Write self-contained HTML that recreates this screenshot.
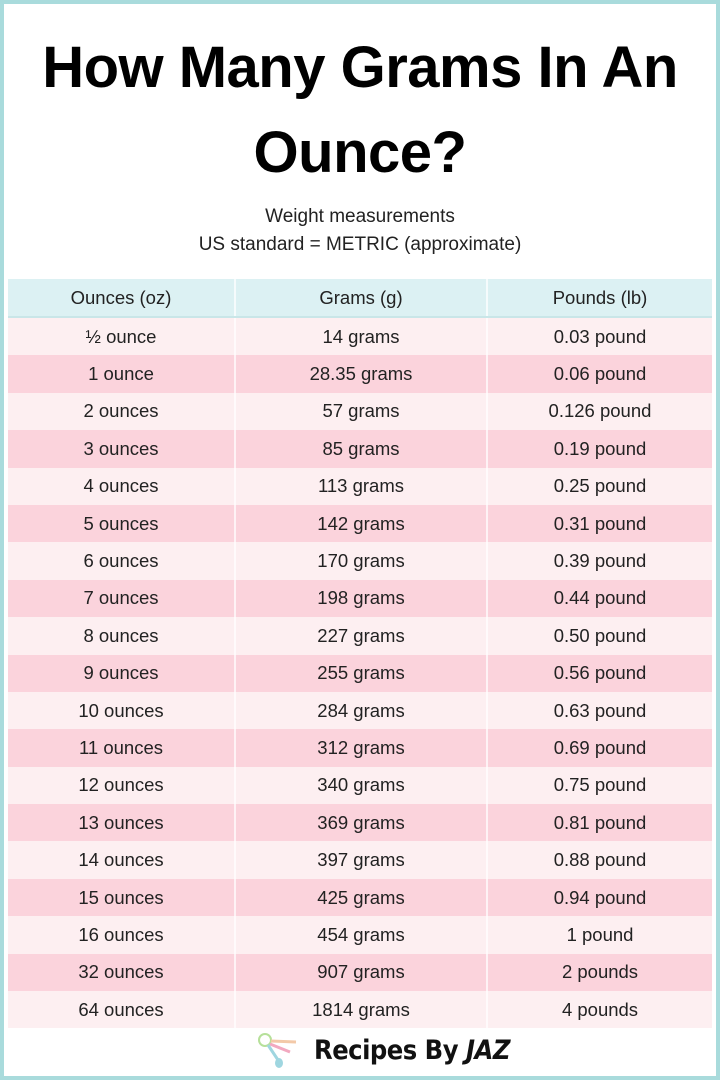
<!DOCTYPE html>
<html><head><meta charset="utf-8"><style>
html,body{margin:0;padding:0}
body{width:720px;height:1080px;position:relative;background:#fff;font-family:"Liberation Sans",sans-serif;overflow:hidden}
.frame{position:absolute;left:0;top:0;width:712px;height:1072px;border:4px solid #a9dbdc;}
h1{position:absolute;left:0;width:720px;top:25px;margin:0;text-align:center;font-size:58px;line-height:85px;font-weight:bold;color:#000;letter-spacing:-0.5px}
.sub{position:absolute;left:0;width:720px;top:203px;text-align:center;font-size:19px;line-height:28px;color:#222}
table{position:absolute;left:8px;top:279px;width:704px;border-collapse:collapse;table-layout:fixed}
td{height:37.4px;padding:0;text-align:center;font-size:18.5px;color:#222;border-right:2px solid rgba(255,255,255,0.7)}
td:last-child{border-right:none}
tr.h td{background:#dcf1f3;height:37px;border-bottom:2px solid #c9e6e8}
tr:nth-child(even) td{background:#fdeff1}
tr:nth-child(odd):not(.h) td{background:#fbd3dc}
.logo{position:absolute;top:1030px;left:256px;height:40px;display:flex;align-items:center}
.logo span{font-family:"DejaVu Sans Condensed","Liberation Sans Narrow",sans-serif;font-weight:bold;font-size:27px;color:#111;margin-left:10px;letter-spacing:-0.5px}
</style></head><body>
<div class="frame"></div>
<h1>How Many Grams In An<br>Ounce?</h1>
<div class="sub">Weight measurements<br>US standard = METRIC (approximate)</div>
<table>
<colgroup><col style="width:227px"><col style="width:252px"><col style="width:225px"></colgroup>
<tr class="h"><td>Ounces (oz)</td><td>Grams (g)</td><td>Pounds (lb)</td></tr>
<tr><td>½ ounce</td><td>14 grams</td><td>0.03 pound</td></tr>
<tr><td>1 ounce</td><td>28.35 grams</td><td>0.06 pound</td></tr>
<tr><td>2 ounces</td><td>57 grams</td><td>0.126 pound</td></tr>
<tr><td>3 ounces</td><td>85 grams</td><td>0.19 pound</td></tr>
<tr><td>4 ounces</td><td>113 grams</td><td>0.25 pound</td></tr>
<tr><td>5 ounces</td><td>142 grams</td><td>0.31 pound</td></tr>
<tr><td>6 ounces</td><td>170 grams</td><td>0.39 pound</td></tr>
<tr><td>7 ounces</td><td>198 grams</td><td>0.44 pound</td></tr>
<tr><td>8 ounces</td><td>227 grams</td><td>0.50 pound</td></tr>
<tr><td>9 ounces</td><td>255 grams</td><td>0.56 pound</td></tr>
<tr><td>10 ounces</td><td>284 grams</td><td>0.63 pound</td></tr>
<tr><td>11 ounces</td><td>312 grams</td><td>0.69 pound</td></tr>
<tr><td>12 ounces</td><td>340 grams</td><td>0.75 pound</td></tr>
<tr><td>13 ounces</td><td>369 grams</td><td>0.81 pound</td></tr>
<tr><td>14 ounces</td><td>397 grams</td><td>0.88 pound</td></tr>
<tr><td>15 ounces</td><td>425 grams</td><td>0.94 pound</td></tr>
<tr><td>16 ounces</td><td>454 grams</td><td>1 pound</td></tr>
<tr><td>32 ounces</td><td>907 grams</td><td>2 pounds</td></tr>
<tr><td>64 ounces</td><td>1814 grams</td><td>4 pounds</td></tr>
</table>
<div class="logo">
<svg width="48" height="40" viewBox="0 0 48 40"><circle cx="9" cy="10" r="6" fill="none" stroke="#b6e09a" stroke-width="2"/><line x1="15" y1="11" x2="40" y2="12" stroke="#f3c9a8" stroke-width="3"/><line x1="14" y1="14" x2="34" y2="22" stroke="#f2a9c0" stroke-width="3"/><line x1="12" y1="15" x2="22" y2="30" stroke="#9fd6e0" stroke-width="3"/><ellipse cx="23" cy="33" rx="4" ry="5" fill="#9fd6e0"/></svg>
<span>Recipes By <i>JAZ</i></span></div>
</body></html>
